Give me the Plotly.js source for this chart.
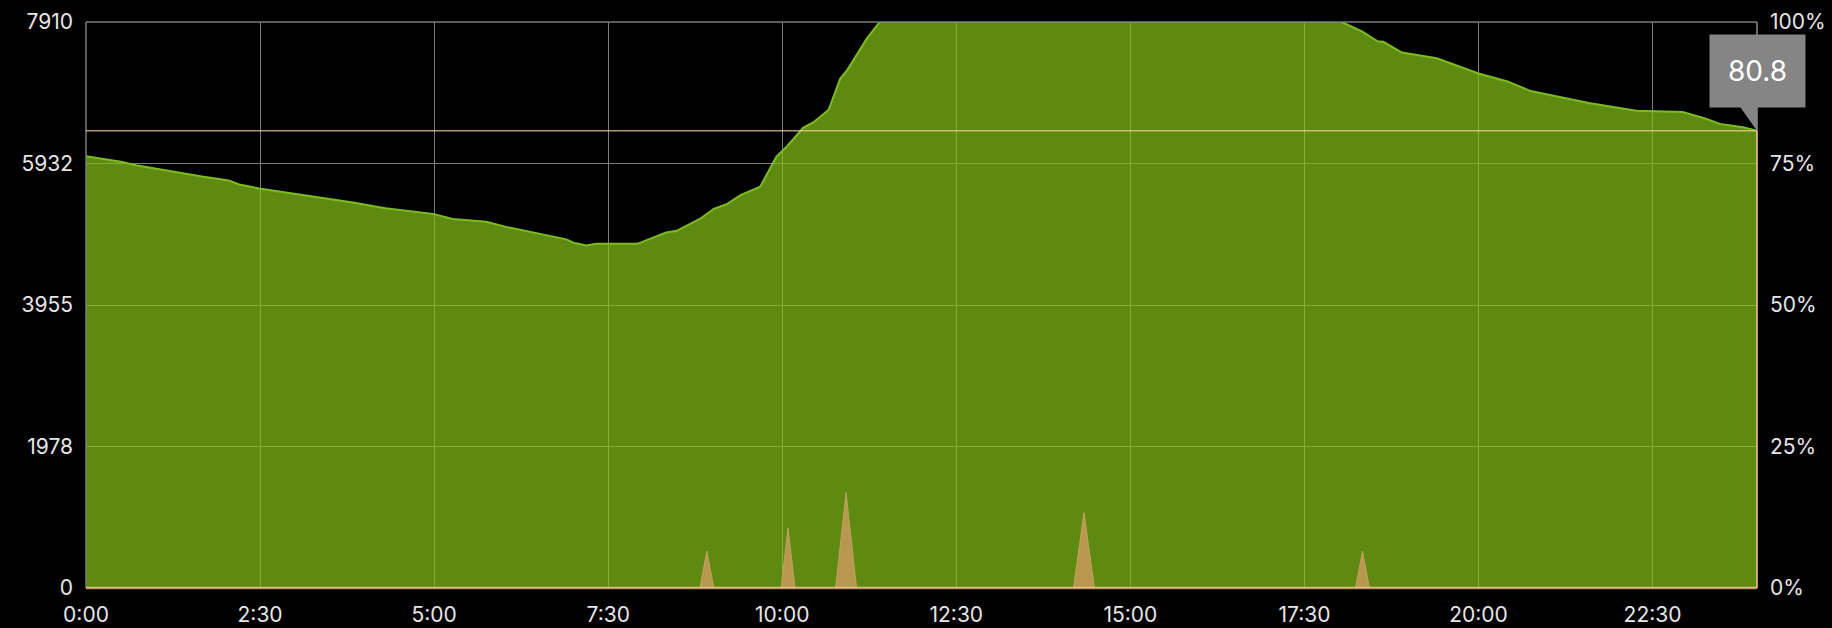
<!DOCTYPE html>
<html>
<head>
<meta charset="utf-8">
<script src="https://cdn.plot.ly/plotly-3.0.1.min.js"></script>
<style>
  html, body { margin: 0; padding: 0; background: #000; }
  #chart { width: 1832px; height: 628px; }
</style>
</head>
<body>
<div id="chart"></div>
<script>
// ---- data (minutes since midnight) ----
const timeMinutes = [0, 10, 20, 30, 43, 60, 80, 100, 123, 132, 149, 172, 201, 230, 258, 280, 299, 316, 345, 362, 388, 414, 420, 431, 440, 475, 500, 509, 529, 541, 552, 564, 581, 595, 604, 618, 627, 640, 650, 656, 673, 684, 1082, 1100, 1113, 1118, 1134, 1164, 1200, 1225, 1245, 1270, 1295, 1336, 1376, 1396, 1408, 1428, 1440];
const batteryPct  = [76.3, 76.0, 75.6, 75.3, 74.7, 74.1, 73.3, 72.7, 72.0, 71.3, 70.6, 69.9, 69.0, 68.1, 67.1, 66.6, 66.1, 65.2, 64.7, 63.8, 62.7, 61.6, 61.0, 60.5, 60.8, 60.8, 62.8, 63.1, 65.2, 67.0, 67.8, 69.4, 70.9, 76.2, 78.0, 81.3, 82.3, 84.5, 90.0, 91.5, 97.1, 100, 100, 98.3, 96.6, 96.5, 94.6, 93.6, 90.9, 89.5, 87.8, 86.8, 85.7, 84.3, 84.1, 82.9, 82.0, 81.4, 80.8];

const spikeMinutes = [0, 529, 535, 541, 599, 605, 611, 646, 655, 664, 851, 860, 869, 1094, 1100, 1106, 1440];
const spikeValues  = [0, 0, 515, 0, 0, 842, 0, 0, 1332, 0, 0, 1053, 0, 0, 515, 0, 0];

const xTickVals = [0, 150, 300, 450, 600, 750, 900, 1050, 1200, 1350];
const xTickText = ["0:00", "2:30", "5:00", "7:30", "10:00", "12:30", "15:00", "17:30", "20:00", "22:30"];
const yLeftTicks = [0, 1978, 3955, 5932, 7910];
const yRightTicks = [0, 25, 50, 75, 100];
const yRightText = ["0%", "25%", "50%", "75%", "100%"];

const currentValue = batteryPct[batteryPct.length - 1];
const endMinute = timeMinutes[timeMinutes.length - 1];
const leftMax = yLeftTicks[yLeftTicks.length - 1];

// ---- styles ----
const FONT = "Inter, 'Liberation Sans', Arial, sans-serif";
const labelColor = "#e6e6e6";
const gridGray = "#7c7c7c";
const tan = "rgba(255,205,150,0.72)";

const traces = [
  // percentage series on the primary (right-side) axis, drawn in the lower layer
  {
    x: timeMinutes, y: batteryPct, xaxis: "x", yaxis: "y", type: "scatter", mode: "lines",
    fill: "tozeroy", fillcolor: "rgba(134,197,26,0.70)",
    line: { color: "#7dbb20", width: 2 }, hoverinfo: "skip"
  },
  // value spikes on the overlaid left axis, drawn on top
  {
    x: spikeMinutes, y: spikeValues, xaxis: "x", yaxis: "y2", type: "scatter", mode: "lines",
    fill: "tozeroy", fillcolor: "#b8984e",
    line: { color: "#c2a35a", width: 1 }, hoverinfo: "skip"
  }
];

const layout = {
  width: 1832, height: 628,
  paper_bgcolor: "#000", plot_bgcolor: "#000",
  margin: { l: 86, r: 75, t: 22, b: 40, pad: 0 },
  showlegend: false,
  font: { family: FONT, color: labelColor, size: 21 },
  xaxis: {
    range: [0, 1440], tickvals: xTickVals, ticktext: xTickText,
    showgrid: true, gridcolor: gridGray, gridwidth: 1, zeroline: false,
    showline: false, ticks: "", ticklabelstandoff: 12,
    tickfont: { family: FONT, size: 21, color: labelColor },
    fixedrange: true
  },
  yaxis: {
    range: [0, 100], tickvals: yRightTicks, ticktext: yRightText, side: "right",
    showgrid: true, gridcolor: gridGray, gridwidth: 1, zeroline: false,
    showline: false, ticks: "", ticklabelstandoff: 12,
    tickfont: { family: FONT, size: 21, color: labelColor }, fixedrange: true
  },
  yaxis2: {
    range: [0, leftMax], tickvals: yLeftTicks, ticktext: yLeftTicks.map(String),
    overlaying: "y", side: "left", showgrid: false, zeroline: false,
    showline: false, ticks: "", ticklabelstandoff: 12,
    tickfont: { family: FONT, size: 21, color: labelColor }, fixedrange: true
  },
  shapes: [
    // top & left frame
    { type: "line", xref: "paper", yref: "paper", x0: 0, x1: 1, y0: 1, y1: 1, line: { color: gridGray, width: 1.5 }, layer: "above" },
    { type: "line", xref: "paper", yref: "paper", x0: 0, x1: 0, y0: 0, y1: 1, line: { color: gridGray, width: 1.5 }, layer: "above" },
    // right frame: gray above the value, tan below
    { type: "line", xref: "paper", yref: "y", x0: 1, x1: 1, y0: currentValue, y1: 100, line: { color: "#9a8a84", width: 1.5 }, layer: "above" },
    { type: "line", xref: "paper", yref: "y", x0: 1, x1: 1, y0: 0, y1: currentValue, line: { color: tan, width: 2 }, layer: "above" },
    // bottom frame
    { type: "line", xref: "paper", yref: "paper", x0: 0, x1: 1, y0: 0, y1: 0, line: { color: tan, width: 2.5 }, layer: "above" },
    // current value reference line
    { type: "line", xref: "paper", yref: "y", x0: 0, x1: 1, y0: currentValue, y1: currentValue, line: { color: tan, width: 1.5 }, layer: "above" },
    // callout pointer
    { type: "path", xref: "x", yref: "y", xsizemode: "pixel", ysizemode: "pixel",
      xanchor: endMinute, yanchor: currentValue,
      path: "M-17,24 L17,24 L0,0 Z", fillcolor: "#858585", line: { width: 0 }, layer: "above" }
  ],
  annotations: [
    { x: endMinute, y: currentValue, xref: "x", yref: "y",
      text: currentValue.toFixed(1), showarrow: false,
      xanchor: "center", yanchor: "bottom", yshift: 23,
      bgcolor: "#858585", width: 95, height: 72, borderpad: 0,
      font: { family: FONT, size: 28, color: "#ffffff" } }
  ]
};

Plotly.newPlot("chart", traces, layout, { displayModeBar: false, staticPlot: true });
</script>
</body>
</html>
